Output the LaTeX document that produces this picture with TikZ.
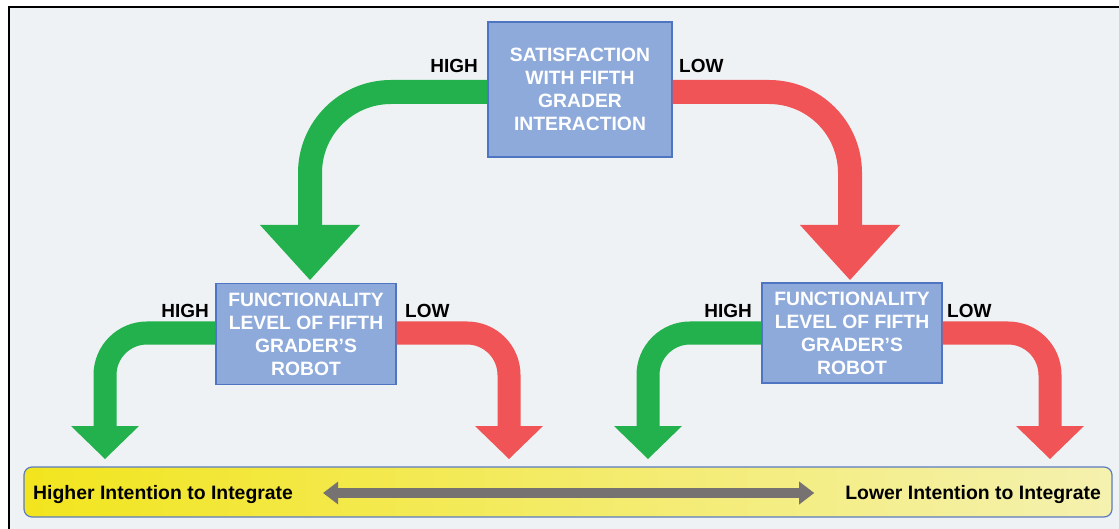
\documentclass[tikz,border=0pt]{standalone}
\usepackage{fontspec}
\setmainfont{Liberation Sans}
\usetikzlibrary{arrows.meta}
\definecolor{bg}{HTML}{EFF2F4}
\definecolor{gA}{HTML}{22B14C}
\definecolor{rA}{HTML}{F05456}
\definecolor{boxF}{HTML}{8EAADB}
\definecolor{boxD}{HTML}{4F74C2}
\definecolor{barY}{HTML}{F2E51E}
\definecolor{barW}{HTML}{F6F7F8}
\definecolor{barD}{HTML}{5B7CC0}
\definecolor{dgray}{HTML}{767272}
\pgfdeclarehorizontalshading{barshade}{100bp}{color(0bp)=(barY); color(25bp)=(barY); color(100bp)=(barW)}
\begin{document}
\begin{tikzpicture}[x=1pt,y=-1pt,
  fbox/.style={draw=boxD, line width=1.2pt, fill=boxF, text=white,
    font=\fontsize{19.3}{23}\selectfont\bfseries, align=center, inner sep=0pt},
  lbl/.style={font=\fontsize{19}{23}\selectfont\bfseries, inner sep=0pt},
  bigarrow/.style={line width=24pt, rounded corners=81pt,
    -{Triangle[length=55pt,width=100pt,line width=0pt]}},
  smallarrow/.style={line width=23pt, rounded corners=42pt,
    -{Triangle[length=33pt,width=68pt,line width=0pt]}},
  dblarrow/.style={draw=dgray, line width=10pt,
    {Triangle[length=15pt,width=23pt,line width=0pt]}-{Triangle[length=15pt,width=23pt,line width=0pt]}},
  bartext/.style={font=\fontsize{19.4}{23}\selectfont\bfseries, inner sep=0pt}
]
\useasboundingbox (0,0) rectangle (1119,529);
% frame and background
\fill[bg] (9,7) rectangle (1119,529);
\draw[line width=2pt] (9,529) -- (9,7) -- (1119,7);

% boxes
\node[fbox, minimum width=184pt, minimum height=135pt] (top) at (580,89.5)
  {SATISFACTION\\WITH FIFTH\\GRADER\\INTERACTION};
\node[fbox, minimum width=180pt, minimum height=101pt] (fl) at (306,334)
  {FUNCTIONALITY\\LEVEL OF FIFTH\\GRADER’S\\ROBOT};
\node[fbox, minimum width=180pt, minimum height=100pt] (fr) at (852,333)
  {FUNCTIONALITY\\LEVEL OF FIFTH\\GRADER’S\\ROBOT};

% bottom bar
\node[draw=barD, line width=1.2pt, shading=barshade, rounded corners=8pt,
  minimum width=1088pt, minimum height=50pt, inner sep=0pt] (bar) at (568,492) {};
\node[bartext, anchor=west] (hi) at (33,495) {Higher Intention to Integrate};
\node[bartext, anchor=east] (lo) at (1101,495) {Lower Intention to Integrate};
\draw[dblarrow] ([xshift=30pt]hi.east |- 0,493) -- ([xshift=-31pt]lo.west |- 0,493);

% arrow end points
\coordinate (t1) at (310,280);
\coordinate (t2) at (850,280);
\coordinate (e1) at (105,459);
\coordinate (e2) at (509,459);
\coordinate (e3) at (648,459);
\coordinate (e4) at (1050,459);

% top arrows
\draw[bigarrow, draw=gA] (top.west |- 0,92) -| (t1);
\draw[bigarrow, draw=rA] (top.east |- 0,92) -| (t2);
% lower arrows
\draw[smallarrow, draw=gA] (fl.west |- 0,333) -| (e1);
\draw[smallarrow, draw=rA] (fl.east |- 0,333) -| (e2);
\draw[smallarrow, draw=gA] (fr.west |- 0,333) -| (e3);
\draw[smallarrow, draw=rA] (fr.east |- 0,333) -| (e4);

% labels
\node[lbl, anchor=base east] (lh0) at (478,73) {HIGH};
\node[lbl, anchor=base west] (ll0) at (679,73) {LOW};
\node[lbl, anchor=base east] (lh1) at (209,317) {HIGH};
\node[lbl, anchor=base west] (ll1) at (405,317) {LOW};
\node[lbl, anchor=base east] (lh2) at (752,317) {HIGH};
\node[lbl, anchor=base west] (ll2) at (947,317) {LOW};
\end{tikzpicture}
\end{document}
